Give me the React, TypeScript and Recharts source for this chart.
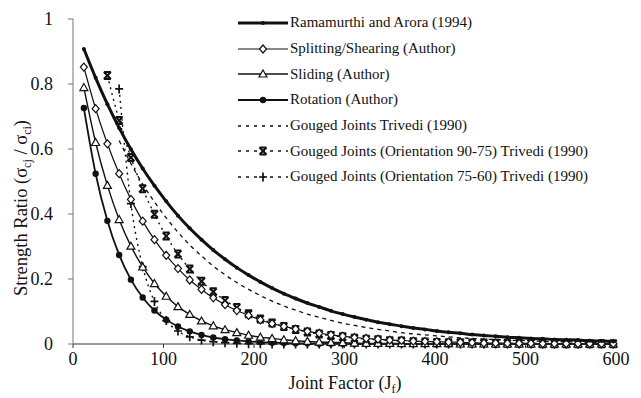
import { LineChart, Line, XAxis, YAxis } from "recharts";

// joint factor values where the points were read
const jf = [
  12, 25, 38, 51, 64, 77, 90, 103, 116, 129, 142, 155, 168, 181, 194, 207, 220, 233, 246, 259, 272, 285, 298,
  311, 324, 337, 350, 363, 376, 389, 402, 415, 428, 441, 454, 467, 480, 493, 506, 519, 532, 545, 558, 571, 584, 597,
];

const ramamurthi = [
  0.908, 0.819, 0.738, 0.665, 0.599, 0.54, 0.487, 0.439, 0.395, 0.356, 0.321, 0.289, 0.261, 0.235, 0.212, 0.191,
  0.172, 0.155, 0.14, 0.126, 0.114, 0.102, 0.092, 0.083, 0.075, 0.067, 0.061, 0.055, 0.049, 0.045, 0.04, 0.036,
  0.033, 0.029, 0.026, 0.024, 0.021, 0.019, 0.017, 0.016, 0.014, 0.013, 0.012, 0.01, 0.009, 0.008,
];

const splitting = [
  0.852, 0.724, 0.616, 0.524, 0.445, 0.378, 0.321, 0.273, 0.232, 0.197, 0.168, 0.142, 0.121, 0.103, 0.088, 0.074,
  0.063, 0.054, 0.046, 0.039, 0.033, 0.028, 0.024, 0.02, 0.017, 0.015, 0.012, 0.011, 0.009, 0.008, 0.007, 0.006,
  0.005, 0.004, 0.003, 0.003, 0.002, 0.002, 0.002, 0.001, 0.001, 0.001, 0.001, 0.001, 0.001, 0.001,
];

const sliding = [
  0.789, 0.62, 0.488, 0.383, 0.301, 0.237, 0.186, 0.147, 0.115, 0.091, 0.071, 0.056, 0.044, 0.035, 0.027, 0.021,
  0.017, 0.013, 0.01, 0.008, 0.006, 0.005, 0.004, 0.003, 0.002, 0.002, 0.002, 0.001, 0.001, 0.001, 0.001, 0.001,
  0, 0, 0, 0, 0, 0, 0, 0, 0, 0, 0, 0, 0, 0,
];

const rotation = [
  0.726, 0.524, 0.379, 0.274, 0.198, 0.143, 0.103, 0.075, 0.054, 0.039, 0.028, 0.02, 0.015, 0.011, 0.008, 0.006,
  0.004, 0.003, 0.002, 0.002, 0.001, 0.001, 0.001, 0, 0, 0, 0, 0, 0, 0, 0, 0,
  0, 0, 0, 0, 0, 0, 0, 0, 0, 0, 0, 0, 0, 0,
];

const gouged = [
  null, null, null, 0.626, 0.555, 0.492, 0.437, 0.388, 0.344, 0.305, 0.271, 0.24, 0.213, 0.189, 0.168, 0.149,
  0.132, 0.117, 0.104, 0.092, 0.082, 0.073, 0.064, 0.057, 0.051, 0.045, 0.04, 0.035, 0.031, 0.028, 0.025, 0.022,
  0.019, 0.017, 0.015, 0.014, 0.012, 0.011, 0.01, 0.008, 0.007, 0.007, 0.006, 0.005, 0.005, 0.004,
];

const gouged9075 = [
  null, null, 0.826, 0.688, 0.574, 0.478, 0.399, 0.332, 0.277, 0.231, 0.193, 0.161, 0.134, 0.112, 0.093, 0.077,
  0.065, 0.054, 0.045, 0.037, 0.031, 0.026, 0.022, 0.018, 0.015, 0.013, 0.01, 0.009, 0.007, 0.006, 0.005, 0.004,
  0.004, 0.003, 0.003, 0.002, 0.002, 0.002, 0.002, 0.001, 0.001, 0.001, 0.001, 0.001, 0.001, 0.001,
];

const gouged7560 = [
  null, null, null, 0.785, 0.432, 0.238, 0.131, 0.072, 0.04, 0.022, 0.012, 0.007, 0.004, 0.002, 0.001, 0.001,
  0, 0, 0, 0, 0, 0, 0, 0, 0, 0, 0, 0, 0, 0, 0, 0,
  0, 0, 0, 0, 0, 0, 0, 0, 0, 0, 0, 0, 0, 0,
];

const xTicks = [0, 100, 200, 300, 400, 500, 600];
const yTicks = [0, 0.2, 0.4, 0.6, 0.8, 1];

const data = jf.map((x, i) => ({
  jf: x,
  ramamurthi: ramamurthi[i],
  splitting: splitting[i],
  sliding: sliding[i],
  rotation: rotation[i],
  gouged: gouged[i],
  gouged9075: gouged9075[i],
  gouged7560: gouged7560[i],
}));

const serif = "'Liberation Serif', 'Times New Roman', serif";
const ink = "#111";

function Diamond({ cx, cy }: any) {
  return <polygon points={`${cx},${cy - 4} ${cx + 3.5},${cy} ${cx},${cy + 4} ${cx - 3.5},${cy}`} fill="#fff" stroke={ink} strokeWidth={1.2} />;
}
function Triangle({ cx, cy }: any) {
  return <polygon points={`${cx},${cy - 4} ${cx + 4},${cy + 3} ${cx - 4},${cy + 3}`} fill="#fff" stroke={ink} strokeWidth={1.2} />;
}
function Dot({ cx, cy, r = 3.2 }: any) {
  return <circle cx={cx} cy={cy} r={r} fill={ink} />;
}
function Star({ cx, cy }: any) {
  return (
    <path
      d={`M${cx - 3.5},${cy - 3.5}L${cx + 3.5},${cy + 3.5}M${cx - 3.5},${cy + 3.5}L${cx + 3.5},${cy - 3.5}M${cx - 3.5},${cy - 3.5}L${cx + 3.5},${cy - 3.5}M${cx - 3.5},${cy + 3.5}L${cx + 3.5},${cy + 3.5}`}
      stroke={ink}
      strokeWidth={2}
      fill="none"
    />
  );
}
function Plus({ cx, cy }: any) {
  return <path d={`M${cx - 4},${cy}L${cx + 4},${cy}M${cx},${cy - 4.5}L${cx},${cy + 4.5}`} stroke={ink} strokeWidth={1.7} fill="none" />;
}

const marker = (Shape: any, extra: any = {}) => (p: any) => {
  if (p.cx == null || p.cy == null || p.value == null) return <g key={`m-${p.index}`} />;
  return (
    <g key={`m-${p.index}`}>
      <Shape cx={p.cx} cy={p.cy} {...extra} />
    </g>
  );
};

const legendItems = [
  { label: "Ramamurthi and Arora (1994)", width: 3, dash: undefined, Shape: Dot, extra: { r: 2 } },
  { label: "Splitting/Shearing (Author)", width: 1.2, dash: undefined, Shape: Diamond, extra: {} },
  { label: "Sliding (Author)", width: 1.4, dash: undefined, Shape: Triangle, extra: {} },
  { label: "Rotation (Author)", width: 1.8, dash: undefined, Shape: Dot, extra: {} },
  { label: "Gouged Joints Trivedi (1990)", width: 1.4, dash: "3 5", Shape: null, extra: {} },
  { label: "Gouged Joints (Orientation 90-75) Trivedi (1990)", width: 1.4, dash: "3 5", Shape: Star, extra: {} },
  { label: "Gouged Joints (Orientation 75-60) Trivedi (1990)", width: 1.4, dash: "3 5", Shape: Plus, extra: {} },
];

function LegendBox() {
  return (
    <div style={{ position: "absolute", left: 236, top: 10, fontFamily: serif, fontSize: 15, color: ink }}>
      {legendItems.map((it) => (
        <div key={it.label} style={{ display: "flex", alignItems: "center", height: 25.7, whiteSpace: "nowrap" }}>
          <svg width={54} height={12}>
            <line x1={2} y1={6} x2={52} y2={6} stroke={ink} strokeWidth={it.width} strokeDasharray={it.dash} />
            {it.Shape && <it.Shape cx={27} cy={6} {...it.extra} />}
          </svg>
          <span>{it.label}</span>
        </div>
      ))}
    </div>
  );
}

export default function App() {
  return (
    <div style={{ position: "absolute", left: 0, top: 0, width: 641, height: 398, background: "#fff" }}>
      <LineChart width={641} height={398} data={data} margin={{ top: 19, right: 25, left: 0, bottom: 24 }}>
        <XAxis
          dataKey="jf"
          type="number"
          domain={[0, 600]}
          ticks={xTicks}
          stroke="#333"
          tickSize={4}
          tickMargin={4}
          height={30}
          tick={{ fill: ink, fontFamily: serif, fontSize: 18 }}
          label={() => (
            <text x={345} y={389} textAnchor="middle" fontFamily={serif} fontSize={18} fill={ink}>
              Joint Factor (J<tspan fontSize={12} dy={4}>f</tspan>
              <tspan dy={-4}>)</tspan>
            </text>
          )}
        />
        <YAxis
          type="number"
          domain={[0, 1]}
          ticks={yTicks}
          width={73}
          stroke="#777"
          tickSize={5}
          tickMargin={15}
          tick={{ fill: ink, fontFamily: serif, fontSize: 18 }}
          label={() => (
            <text x={27} y={208} transform="rotate(-90, 27, 208)" textAnchor="middle" fontFamily={serif} fontSize={18.5} fill={ink}>
              Strength Ratio (σ<tspan fontSize={12} dy={4}>cj</tspan>
              <tspan dy={-4}> / σ</tspan>
              <tspan fontSize={12} dy={4}>ci</tspan>
              <tspan dy={-4}>)</tspan>
            </text>
          )}
        />
        <Line type="monotone" dataKey="gouged" stroke={ink} strokeWidth={1.3} strokeDasharray="4 4" dot={false} isAnimationActive={false} />
        <Line type="monotone" dataKey="gouged9075" stroke={ink} strokeWidth={1.4} strokeDasharray="2 4" dot={marker(Star)} isAnimationActive={false} />
        <Line type="monotone" dataKey="gouged7560" stroke={ink} strokeWidth={1.4} strokeDasharray="2 4" dot={marker(Plus)} isAnimationActive={false} />
        <Line type="monotone" dataKey="rotation" stroke={ink} strokeWidth={1.8} dot={marker(Dot)} isAnimationActive={false} />
        <Line type="monotone" dataKey="sliding" stroke={ink} strokeWidth={1.4} dot={marker(Triangle)} isAnimationActive={false} />
        <Line type="monotone" dataKey="splitting" stroke={ink} strokeWidth={1.2} dot={marker(Diamond)} isAnimationActive={false} />
        <Line type="monotone" dataKey="ramamurthi" stroke={ink} strokeWidth={3} dot={marker(Dot, { r: 2 })} isAnimationActive={false} />
      </LineChart>
      <LegendBox />
    </div>
  );
}
